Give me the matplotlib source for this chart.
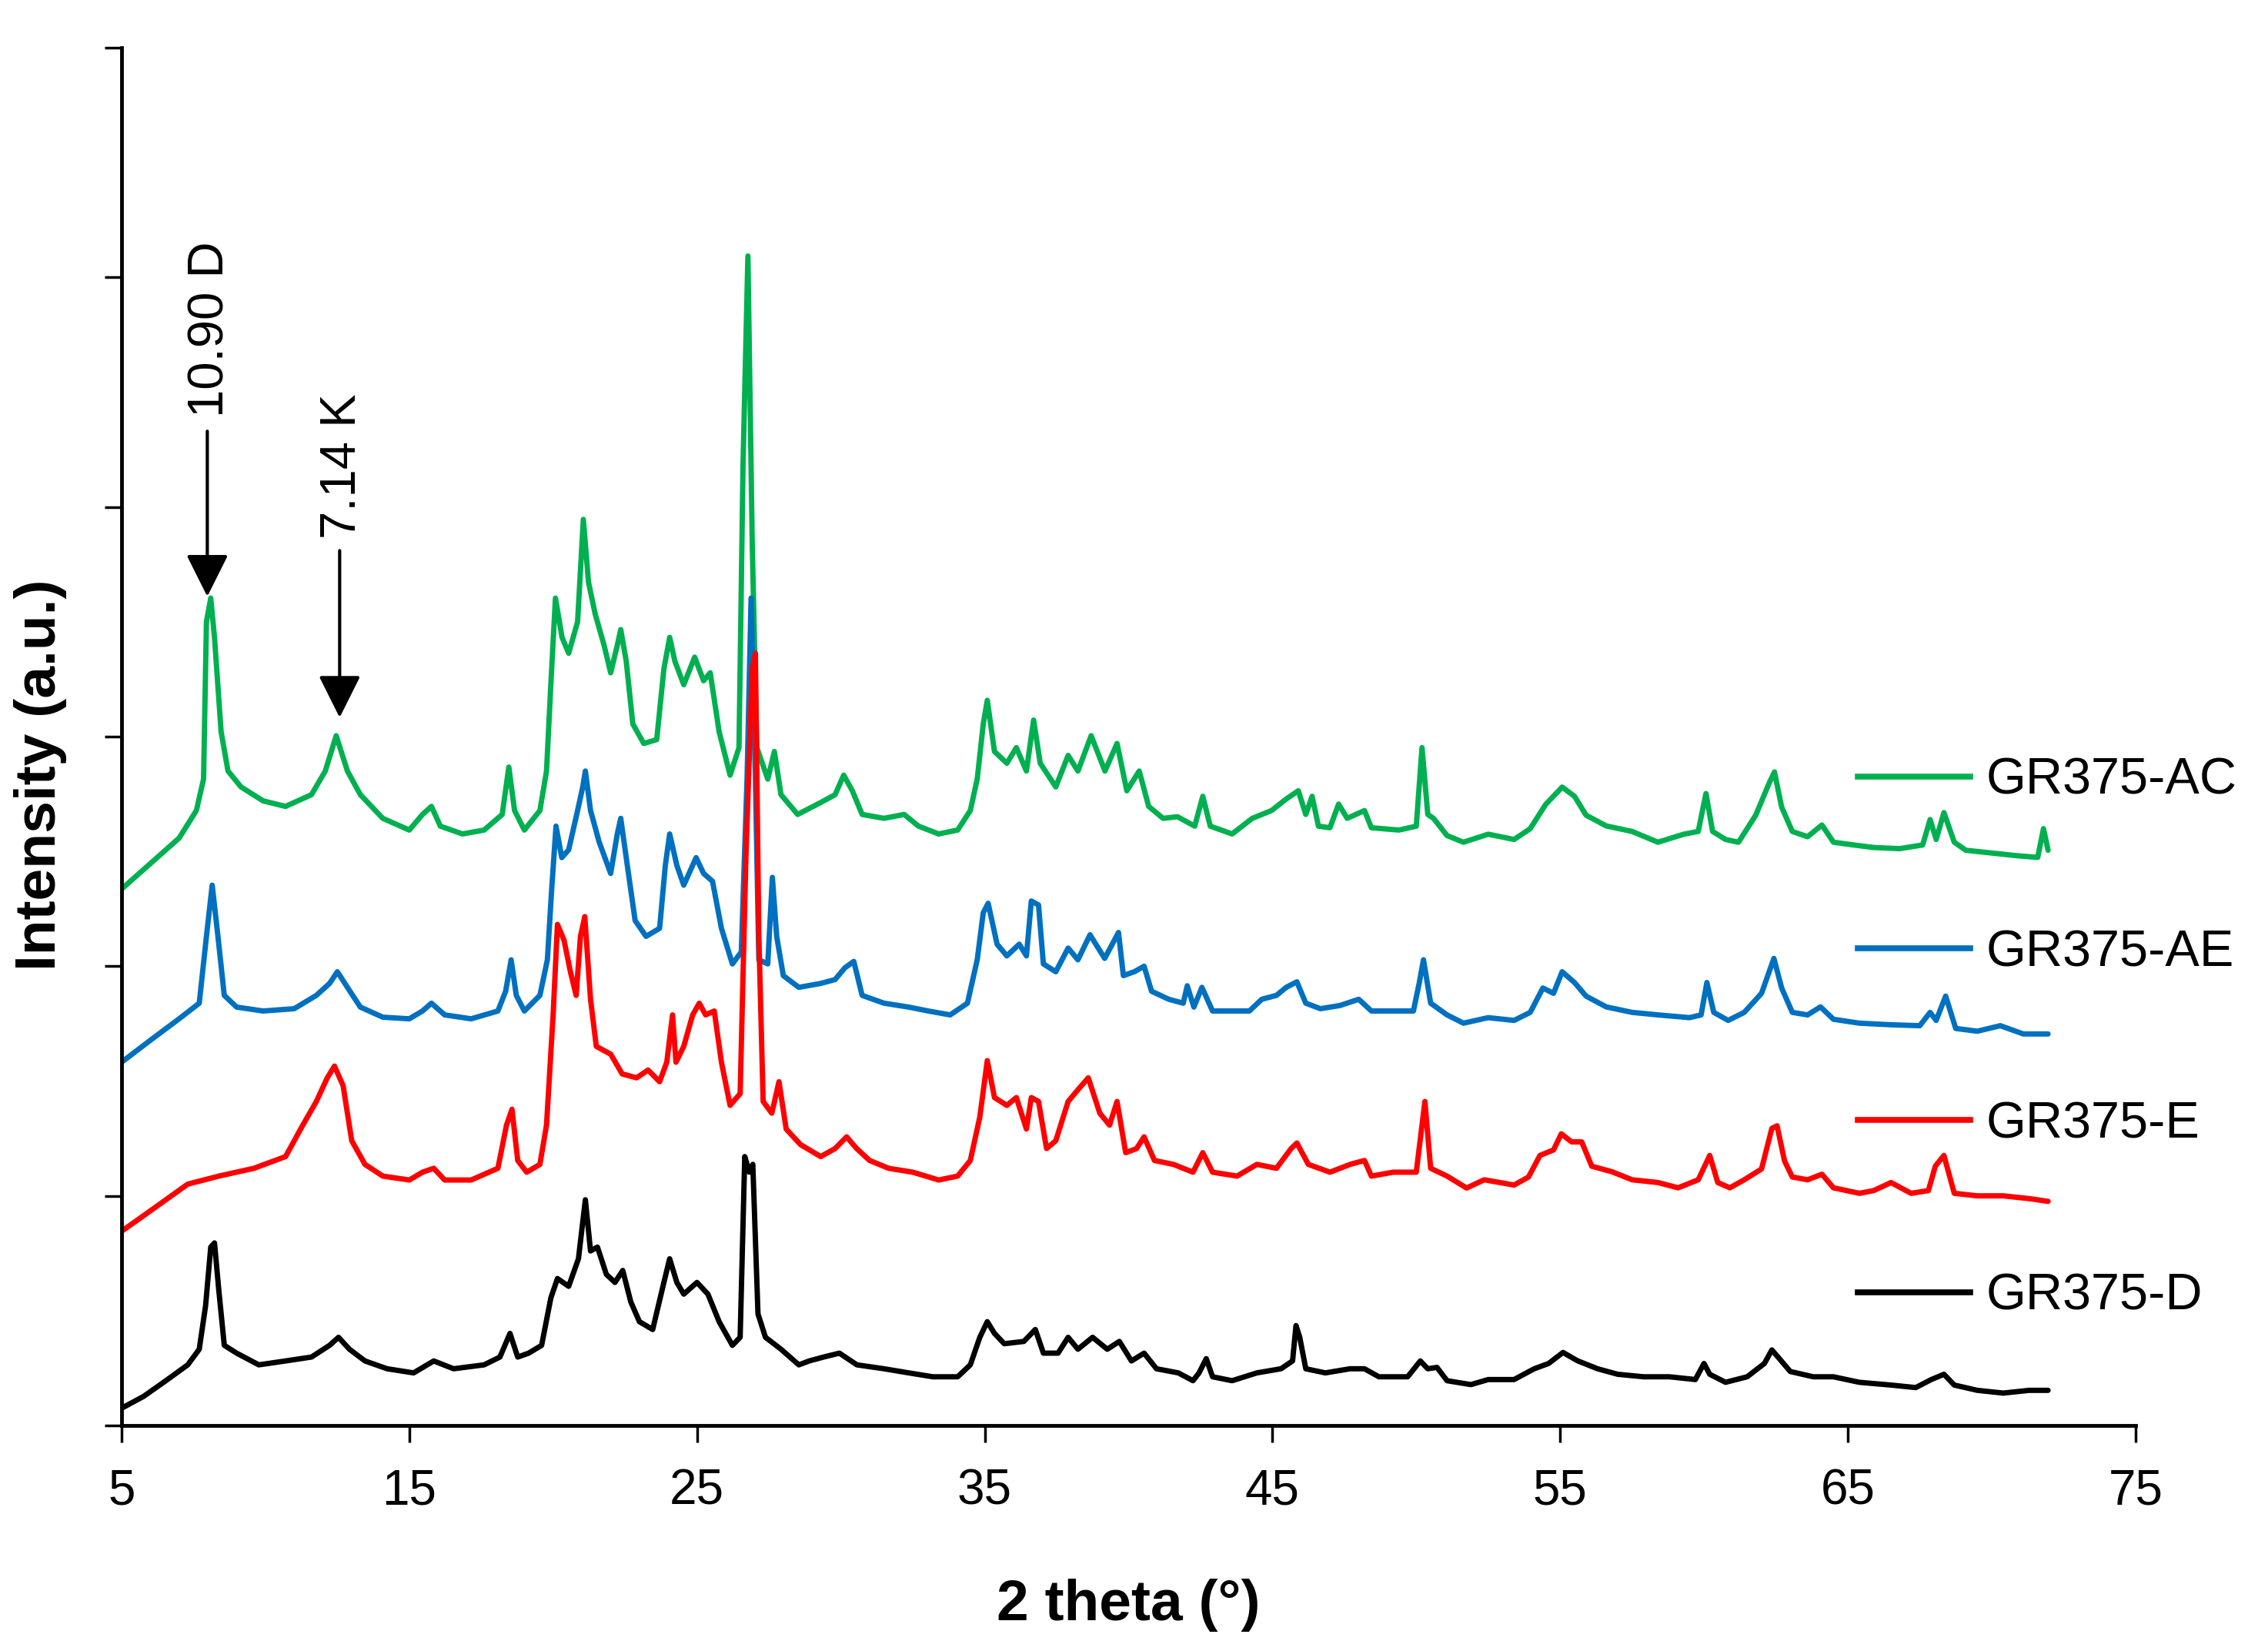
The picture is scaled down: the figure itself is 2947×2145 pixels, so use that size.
"""XRD patterns of GR375 clay fractions (D, E, AE, AC), offset stack."""

import matplotlib

matplotlib.use("Agg")
import matplotlib.pyplot as plt
from matplotlib.lines import Line2D

plt.rcParams["font.family"] = ["Liberation Sans", "DejaVu Sans"]

# ---- data (2 theta in degrees, intensity in a.u.) ----
ac_x = [5.0, 6.08, 7.0, 7.6, 7.85, 7.95, 8.1, 8.23, 8.46, 8.7, 9.15, 9.92, 10.7, 11.6, 12.08,
        12.46, 12.85, 13.3, 14.08, 15.0, 15.46, 15.77, 16.08, 16.85, 17.6, 18.23, 18.46, 18.66,
        19.0, 19.54, 19.77, 19.92, 20.08, 20.31, 20.54, 20.85, 21.05, 21.23, 21.46, 21.77, 22.0,
        22.23, 22.35, 22.54, 22.77, 23.15, 23.6, 23.85, 24.05, 24.23, 24.54, 24.92, 25.23, 25.46,
        25.77, 26.15, 26.46, 26.6, 26.77, 26.92, 27.08, 27.46, 27.69, 27.92, 28.5, 29.3, 29.8,
        30.1, 30.4, 30.74, 31.5, 32.2, 32.7, 33.4, 34.06, 34.5, 34.74, 34.95, 35.09, 35.34, 35.77,
        36.1, 36.45, 36.7, 36.93, 37.47, 37.9, 38.24, 38.7, 39.18, 39.6, 39.94, 40.37, 40.7, 41.2,
        41.7, 42.3, 42.58, 42.84, 43.6, 44.3, 44.97, 45.5, 45.9, 46.16, 46.38, 46.6, 47.0, 47.3,
        47.6, 48.2, 48.44, 49.4, 50.0, 50.2, 50.4, 50.6, 51.07, 51.64, 52.5, 53.4, 53.96, 54.5,
        55.07, 55.5, 55.9, 56.6, 57.5, 58.4, 59.3, 59.8, 60.07, 60.3, 60.75, 61.2, 61.8, 62.27,
        62.45, 62.7, 63.07, 63.6, 64.1, 64.5, 65.2, 65.9, 66.8, 67.6, 67.86, 68.07, 68.34, 68.7,
        69.1, 70.0, 70.9, 71.6, 71.8, 71.96]
ac_y = [2336, 2456, 2558, 2678, 2815, 3500, 3603, 3432, 3021, 2850, 2781, 2720, 2696, 2747, 2850,
        3004, 2850, 2747, 2644, 2593, 2661, 2696, 2610, 2576, 2593, 2661, 2867, 2678,
        2593, 2678, 2850, 3226, 3603, 3432, 3363, 3500, 3946, 3672, 3535, 3398, 3278,
        3398, 3466, 3329, 3055, 2970, 2987, 3295, 3432, 3329, 3226, 3346, 3243, 3278,
        3021, 2832, 2952, 4185, 5093, 3843, 2952, 2815, 2935, 2747, 2661, 2713, 2747,
        2832, 2764, 2661, 2644, 2661, 2610, 2576, 2593, 2678, 2815, 3055, 3158, 2935, 2884,
        2952, 2850, 3072, 2884, 2781, 2918, 2850, 3004, 2850, 2970, 2764, 2850, 2696, 2644,
        2651, 2610, 2740, 2610, 2576, 2644, 2678, 2730, 2764, 2661, 2740, 2610, 2603, 2706,
        2644, 2678, 2603, 2593, 2610, 2952, 2661, 2644, 2569, 2540, 2575, 2552, 2599, 2705,
        2780, 2740, 2658, 2611, 2587, 2540, 2575, 2587, 2752, 2587, 2552, 2540, 2658, 2799,
        2846, 2693, 2587, 2564, 2615, 2540, 2528, 2517, 2512, 2528, 2639, 2552, 2669, 2540,
        2505, 2493, 2481, 2474, 2599, 2505]

ae_x = [5.0, 6.08, 7.0, 7.7, 7.95, 8.15, 8.35, 8.57, 9.0, 9.92, 11.0, 11.77, 12.23, 12.5, 12.85,
        13.3, 14.08, 15.0, 15.46, 15.77, 16.23, 17.15, 18.08, 18.35, 18.54, 18.72, 19.0, 19.54,
        19.8, 19.95, 20.1, 20.3, 20.54, 20.85, 21.03, 21.12, 21.3, 21.6, 22.0, 22.23, 22.35,
        22.54, 22.85, 23.23, 23.7, 23.9, 24.05, 24.3, 24.54, 24.97, 25.23, 25.54, 25.85, 26.23,
        26.54, 26.74, 26.88, 27.03, 27.15, 27.46, 27.62, 27.77, 28.0, 28.54, 29.3, 29.8, 30.14,
        30.45, 30.74, 31.5, 32.36, 33.04, 33.8, 34.4, 34.74, 34.95, 35.12, 35.43, 35.77, 36.2,
        36.45, 36.62, 36.87, 37.04, 37.47, 37.9, 38.24, 38.66, 39.17, 39.65, 39.82, 40.2, 40.54,
        40.8, 41.4, 41.9, 42.04, 42.27, 42.55, 42.92, 43.6, 44.2, 44.63, 45.14, 45.48, 45.85,
        46.16, 46.67, 47.35, 48.0, 48.44, 49.2, 49.9, 50.1, 50.25, 50.5, 51.07, 51.64, 52.5,
        53.4, 53.96, 54.4, 54.77, 55.07, 55.5, 55.9, 56.6, 57.5, 58.4, 59.5, 59.9, 60.1, 60.34,
        60.84, 61.4, 62.0, 62.43, 62.7, 63.07, 63.6, 64.05, 64.5, 65.4, 66.5, 67.5, 67.86, 68.07,
        68.4, 68.75, 69.5, 70.3, 71.1, 71.96]
ae_y = [1582, 1685, 1771, 1839, 2130, 2353, 2130, 1873, 1822, 1805, 1815, 1873, 1925, 1976, 1908,
        1822, 1778, 1771, 1805, 1839, 1788, 1771, 1805, 1891, 2028, 1873, 1805, 1873,
        2028, 2336, 2610, 2473, 2507, 2678, 2781, 2850, 2678, 2541, 2404, 2576, 2644,
        2473, 2199, 2130, 2165, 2439, 2576, 2439, 2353, 2473, 2404, 2370, 2165, 2010,
        2062, 2815, 3603, 2815, 2028, 2010, 2387, 2130, 1959, 1908, 1925, 1942, 1993,
        2021, 1873, 1839, 1822, 1805, 1788, 1839, 2028, 2233, 2274, 2096, 2045, 2096,
        2045, 2284, 2267, 2010, 1976, 2079, 2028, 2137, 2034, 2147, 1959, 1976, 2000,
        1891, 1856, 1839, 1915, 1822, 1908, 1805, 1805, 1805, 1856, 1873, 1908, 1932,
        1839, 1815, 1829, 1856, 1805, 1805, 1805, 1925, 2028, 1839, 1788, 1752, 1776,
        1764, 1799, 1905, 1882, 1976, 1929, 1870, 1823, 1799, 1788, 1776, 1788, 1929, 1799,
        1764, 1799, 1882, 2034, 1905, 1799, 1788, 1823, 1769, 1752, 1745, 1741, 1799, 1764,
        1870, 1729, 1717, 1741, 1705, 1705]

e_x = [5.0, 5.77, 6.54, 7.3, 8.38, 9.6, 10.7, 11.3, 11.77, 12.15, 12.4, 12.7, 13.0, 13.46, 14.08,
       15.0, 15.46, 15.85, 16.23, 17.15, 18.08, 18.38, 18.57, 18.77, 19.08, 19.54, 19.77, 20.0,
       20.15, 20.38, 20.6, 20.8, 20.95, 21.1, 21.3, 21.5, 22.0, 22.4, 22.9, 23.3, 23.7, 23.95,
       24.15, 24.27, 24.54, 24.85, 25.08, 25.3, 25.6, 25.85, 26.15, 26.5, 26.7, 26.92, 27.03,
       27.15, 27.3, 27.6, 27.85, 28.1, 28.6, 29.3, 29.8, 30.2, 30.55, 31.0, 31.66, 32.5, 33.4,
       34.06, 34.5, 34.83, 35.09, 35.34, 35.77, 36.1, 36.45, 36.62, 36.87, 37.15, 37.47, 37.9,
       38.24, 38.6, 39.0, 39.34, 39.6, 39.9, 40.28, 40.54, 40.9, 41.56, 42.24, 42.58, 42.92,
       43.77, 44.46, 45.14, 45.65, 45.85, 46.25, 47.0, 47.7, 48.2, 48.44, 49.2, 50.0, 50.3,
       50.5, 51.07, 51.75, 52.36, 53.4, 53.9, 54.3, 54.77, 55.04, 55.4, 55.75, 56.1, 56.8, 57.5,
       58.4, 59.1, 59.8, 60.2, 60.48, 60.9, 61.4, 62.0, 62.36, 62.54, 62.8, 63.07, 63.6, 64.1,
       64.5, 65.4, 65.9, 66.5, 67.2, 67.8, 68.04, 68.34, 68.7, 69.5, 70.4, 71.3, 71.96]
e_y = [846, 914, 983, 1051, 1086, 1120, 1171, 1308, 1411, 1514, 1565, 1480, 1240, 1137, 1086,
       1069, 1103, 1120, 1069, 1069, 1120, 1308, 1377, 1154, 1103, 1137, 1308, 1788,
       2182, 2113, 1976, 1873, 2130, 2216, 1856, 1651, 1617, 1531, 1514, 1548, 1497, 1582,
       1788, 1582, 1651, 1788, 1839, 1788, 1805, 1582, 1394, 1445, 2473, 3295, 3363,
       2130, 1411, 1360, 1497, 1291, 1223, 1171, 1206, 1257, 1206, 1154, 1120, 1103, 1069,
       1086, 1154, 1343, 1589, 1428, 1394, 1428, 1291, 1428, 1411, 1206, 1240, 1411,
       1462, 1514, 1360, 1308, 1411, 1188, 1206, 1257, 1154, 1137, 1103, 1188, 1103,
       1086, 1137, 1120, 1206, 1230, 1137, 1103, 1137, 1154, 1086, 1103, 1103, 1411,
       1120, 1086, 1034, 1070, 1047, 1082, 1176, 1200, 1270, 1235, 1235, 1129, 1105, 1070,
       1058, 1035, 1070, 1176, 1058, 1035, 1070, 1117, 1294, 1305, 1152, 1082, 1070, 1094,
       1035, 1011, 1023, 1058, 1011, 1023, 1129, 1176, 1011, 1000, 1000, 988, 976]

d_x = [5.0, 5.77, 6.54, 7.3, 7.7, 7.92, 8.1, 8.23, 8.38, 8.57, 9.0, 9.77, 10.7, 11.6, 12.23, 12.54,
       12.92, 13.46, 14.23, 15.15, 15.85, 16.54, 17.6, 18.15, 18.5, 18.77, 19.15, 19.6, 19.92,
       20.15, 20.54, 20.88, 21.12, 21.3, 21.54, 21.85, 22.15, 22.42, 22.7, 23.0, 23.46, 23.85,
       24.05, 24.3, 24.54, 25.0, 25.38, 25.77, 26.23, 26.5, 26.66, 26.82, 26.94, 27.12, 27.38,
       27.92, 28.54, 28.9, 29.4, 29.95, 30.56, 31.5, 32.36, 33.2, 34.06, 34.5, 34.83, 35.09,
       35.34, 35.68, 36.36, 36.76, 37.04, 37.55, 37.9, 38.24, 38.75, 39.26, 39.68, 40.1, 40.54,
       40.97, 41.73, 42.24, 42.45, 42.7, 42.92, 43.6, 44.46, 45.3, 45.7, 45.82, 45.95, 46.16,
       46.84, 47.7, 48.2, 48.7, 49.7, 50.14, 50.4, 50.72, 51.07, 51.9, 52.5, 53.4, 54.1, 54.6,
       55.1, 55.6, 56.3, 57.0, 57.9, 58.8, 59.7, 60.0, 60.2, 60.75, 61.5, 62.1, 62.36, 62.6,
       63.0, 63.8, 64.5, 65.4, 66.5, 67.36, 67.9, 68.34, 68.7, 69.5, 70.4, 71.3, 71.96]
d_y = [75, 127, 195, 264, 332, 521, 777, 795, 589, 349, 315, 264, 281, 298, 349, 384,
       332, 281, 247, 229, 281, 247, 264, 298, 401, 298, 315, 349, 555,
       640, 606, 726, 983, 760, 777, 658, 623, 675, 538, 452, 418, 623,
       726, 623, 572, 623, 572, 452, 349, 384, 1171, 1103, 1137, 486, 384,
       332, 264, 281, 298, 315, 264, 247, 229, 212, 212, 264, 384, 452,
       401, 356, 366, 418, 315, 315, 384, 332, 384, 332, 366, 281, 315,
       247, 229, 195, 229, 291, 212, 195, 229, 247, 281, 435, 384, 247,
       229, 247, 247, 212, 212, 281, 247, 253, 195, 178, 200, 200, 247, 270,
       318, 282, 247, 223, 212, 212, 200, 270, 223, 188, 212, 270, 329, 294,
       235, 212, 212, 188, 176, 165, 200, 223, 176, 153, 141, 153, 153]

series = [
    ("GR375-AC", ac_x, ac_y, "#00B050"),
    ("GR375-AE", ae_x, ae_y, "#0070C0"),
    ("GR375-E", e_x, e_y, "#FF0000"),
    ("GR375-D", d_x, d_y, "#000000"),
]

x_ticks = [5, 15, 25, 35, 45, 55, 65, 75]
y_ticks = [0, 1000, 2000, 3000, 4000, 5000, 6000]

# peak markers: label, 2theta, arrow tip, arrow top, label base
peaks = [
    ("10.90 D", 7.98, 3610, 4330, 4390),
    ("7.14 K", 12.58, 3083, 3810, 3860),
]

fig = plt.figure(figsize=(29.47, 21.45), dpi=100)
ax = fig.add_axes([0.0536, 0.1366, 0.888, 0.8345])

handles = []
for name, xs, ys, color in series:
    ax.plot(xs, ys, color=color, lw=5, solid_joinstyle="round", solid_capstyle="round")
    handles.append(Line2D([], [], color=color, lw=5.5, label=name))

for label, x, tip, top, base in peaks:
    ax.annotate("", xy=(x, tip), xytext=(x, top),
                arrowprops=dict(arrowstyle="-|>,head_length=0.4,head_width=0.2",
                                color="black", lw=3, mutation_scale=85,
                                shrinkA=0, shrinkB=0))
    ax.text(x + 0.1, base, label, rotation=90, ha="center", va="bottom", fontsize=47)

ax.set_xlim(5, 75)
ax.set_ylim(0, 6000)
ax.set_xticks(x_ticks)
ax.set_yticks(y_ticks)
ax.set_yticklabels([])
ax.tick_params(axis="both", direction="out", length=16, width=2.5, labelsize=46)
ax.tick_params(axis="x", pad=24)
for side in ("top", "right"):
    ax.spines[side].set_visible(False)
for side in ("left", "bottom"):
    ax.spines[side].set_linewidth(3.5)

ax.set_xlabel("2 theta (°)", fontsize=54, fontweight="bold", labelpad=60)
ax.set_ylabel("Intensity (a.u.)", fontsize=54, fontweight="bold")
ax.yaxis.set_label_coords(-0.027, 0.472)

ax.legend(handles=handles, loc="upper left", bbox_to_anchor=(0.862, 0.485),
          frameon=False, fontsize=48, handlelength=2.2, handletextpad=0.3,
          labelspacing=2.42, borderpad=0, borderaxespad=0)

fig.savefig("out.png", dpi=100)
